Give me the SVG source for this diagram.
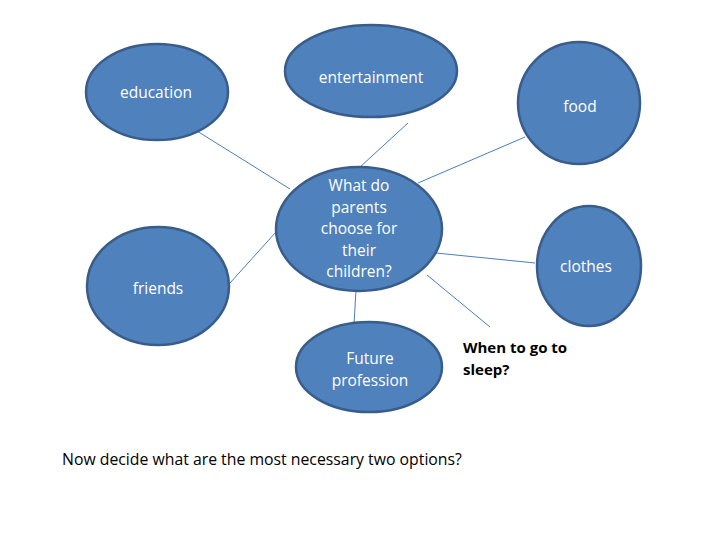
<svg xmlns="http://www.w3.org/2000/svg" width="720" height="540" viewBox="0 0 720 540">
<style>
.node ellipse{fill:#4F81BD;stroke:#385D8A;stroke-width:2.5}
.node text{fill:#FFFFFF;font-family:"Open Sans","Noto Sans",Arial,sans-serif;font-size:15.5px;text-anchor:middle}
.conn line{stroke:#4A7EBB;stroke-width:1}
.plain{font-family:"Open Sans","Noto Sans",Arial,sans-serif;font-size:15px;fill:#000}
</style>
<rect width="720" height="540" fill="#FFFFFF"/>
<g id="connectors" class="conn">
<line x1="197" y1="131" x2="290" y2="189"/>
<line x1="408" y1="123" x2="360" y2="167"/>
<line x1="525" y1="137" x2="418" y2="183"/>
<line x1="230" y1="283" x2="276" y2="232"/>
<line x1="436" y1="253" x2="535" y2="263"/>
<line x1="427" y1="275" x2="490" y2="327"/>
<line x1="356" y1="290" x2="354" y2="324"/>
</g>
<g id="education" class="node">
<ellipse cx="157" cy="92" rx="71" ry="48"/>
<text x="156" y="98">education</text>
</g>
<g id="entertainment" class="node">
<ellipse cx="371" cy="71" rx="86" ry="46"/>
<text x="371" y="83">entertainment</text>
</g>
<g id="food" class="node">
<ellipse cx="579" cy="103" rx="61" ry="61"/>
<text x="580" y="112">food</text>
</g>
<g id="center" class="node">
<ellipse cx="359" cy="229" rx="83" ry="62"/>
<text x="359" y="191">What do</text>
<text x="359" y="213">parents</text>
<text x="359" y="234">choose for</text>
<text x="359" y="256">their</text>
<text x="359" y="277">children?</text>
</g>
<g id="friends" class="node">
<ellipse cx="158" cy="286" rx="71" ry="59"/>
<text x="158" y="294">friends</text>
</g>
<g id="clothes" class="node">
<ellipse cx="589" cy="266" rx="52" ry="60"/>
<text x="586" y="272">clothes</text>
</g>
<g id="future" class="node">
<ellipse cx="369" cy="367" rx="73" ry="45"/>
<text x="370" y="364">Future</text>
<text x="370" y="386">profession</text>
</g>
<g id="sleep">
<text class="plain" x="463" y="353" font-weight="bold">When to go to</text>
<text class="plain" x="463" y="375" font-weight="bold">sleep?</text>
</g>
<text class="plain" x="62" y="465" style="font-size:15.8px">Now decide what are the most necessary two options?</text>
</svg>
